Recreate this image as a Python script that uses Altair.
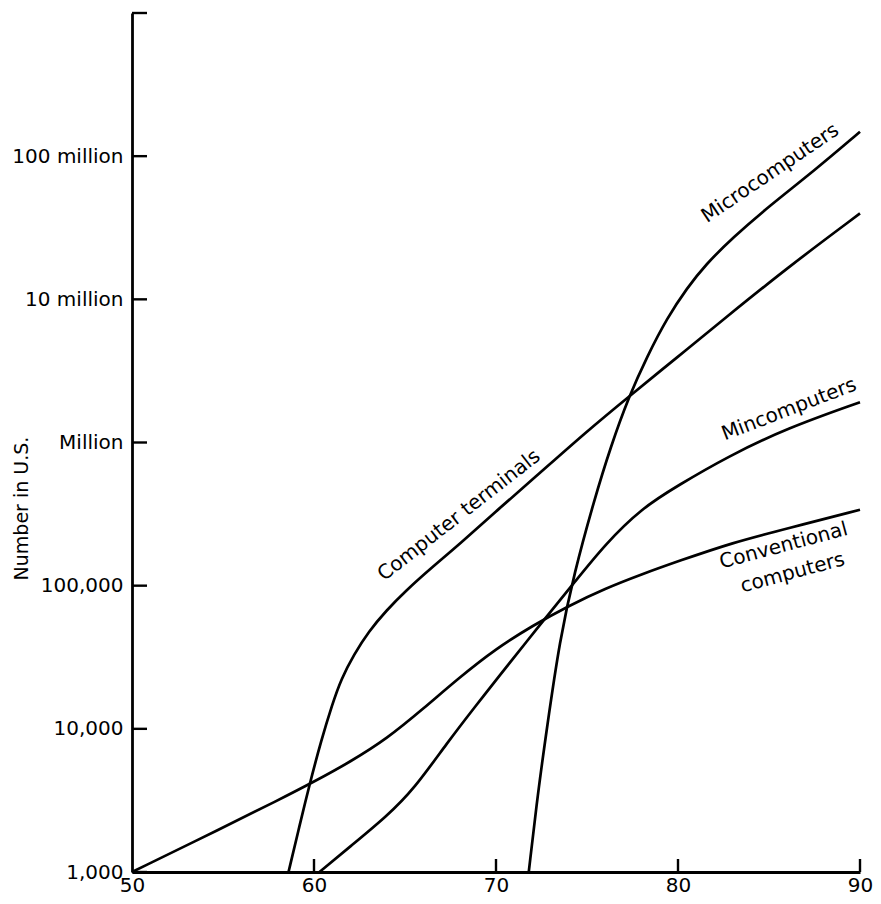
import altair as alt
import pandas as pd

# ---- data ----
conv_years = [50, 55, 58, 60, 62, 64, 66, 68, 70, 72, 74, 76, 78, 80, 83, 86, 90]
conv_vals = [1000, 2040, 3160, 4270, 5890, 8510, 13800, 22900, 36300, 52500, 72400, 95500,
             120000, 148000, 200000, 251000, 339000]

term_years = [58.6, 59.2, 59.75, 60.4, 61, 61.5, 62.2, 63, 64, 65, 66.5, 68, 70, 72, 75, 77.3,
              80, 82.5, 86, 90]
term_vals = [1000, 2090, 4070, 8320, 14800, 22400, 33100, 47900, 67600, 91200, 135000, 195000,
             331000, 550000, 1200000, 2090000, 3980000, 7240000, 16600000, 39800000]

micro_years = [71.8, 72.3, 72.8, 73.5, 74.3, 75.4, 76.3, 77.3, 78.3, 79.4, 80.5, 81.5, 83, 85,
               87.5, 90]
micro_vals = [1000, 3550, 10200, 41700, 123000, 398000, 933000, 2090000, 3980000, 7410000,
              12000000, 17400000, 26900000, 44700000, 79400000, 148000000]

mini_years = [60.3, 62, 64, 65.5, 67.3, 69, 70, 72.5, 74.3, 76, 78, 80, 82.7, 86, 90]
mini_vals = [1000, 1510, 2450, 3800, 7940, 15100, 21900, 55000, 105000, 195000, 347000, 501000,
             794000, 1260000, 1910000]

y_tick_values = [1e3, 1e4, 1e5, 1e6, 1e7, 1e8, 1e9]
y_tick_labels = ["1,000", "10,000", "100,000", "Million", "10 million", "100 million", ""]
x_tick_values = [50, 60, 70, 80, 90]
inner_x_ticks = [60, 70, 80, 90]

FONT = "DejaVu Sans"
W, H = 728, 859

rows = []
for name, xs, vs in [("Conventional computers", conv_years, conv_vals),
                     ("Computer terminals", term_years, term_vals),
                     ("Microcomputers", micro_years, micro_vals),
                     ("Minicomputers", mini_years, mini_vals)]:
    for i, (x, v) in enumerate(zip(xs, vs)):
        rows.append({"series": name, "year": x, "value": v, "order": i})
df = pd.DataFrame(rows)

label_expr = " : ".join(
    f"datum.value == {v:g} ? '{t}'" for v, t in zip(y_tick_values, y_tick_labels)
) + " : ''"

xscale = alt.Scale(domain=[50, 90], nice=False, zero=False)
yscale = alt.Scale(type="log", domain=[1e3, 1e9], nice=False)

xaxis = alt.Axis(values=x_tick_values, ticks=False, grid=False, domainWidth=2.8,
                 domainColor="black", labelFontSize=20, labelFont=FONT, labelColor="black",
                 labelPadding=3, title=None, labelFlush=False)
yaxis = alt.Axis(values=y_tick_values, labelExpr=label_expr, ticks=False, grid=False,
                 domainWidth=2.8, domainColor="black", labelFontSize=20, labelFont=FONT,
                 labelColor="black", labelPadding=9, title="Number in U.S.",
                 titleFont=FONT, titleFontSize=19, titleFontWeight="normal",
                 titleColor="black", titleX=-111, titleY=495, titleAngle=270,
                 titleAlign="center", titleBaseline="middle", labelFlush=False)

X = lambda: alt.X("year:Q", scale=xscale, axis=xaxis)
Y = lambda: alt.Y("value:Q", scale=yscale, axis=yaxis)

lines = alt.Chart(df).mark_line(color="black", strokeWidth=2.7,
                                interpolate="basis").encode(
    x=X(), y=Y(), detail="series:N", order="order:Q",
)

ytick_df = pd.DataFrame({"value": y_tick_values})
yticks = alt.Chart(ytick_df).mark_rule(color="black", strokeWidth=2.4).encode(
    y=Y(), x=alt.value(0), x2=alt.value(15),
)
xtick_df = pd.DataFrame({"year": inner_x_ticks})
xticks = alt.Chart(xtick_df).mark_rule(color="black", strokeWidth=2.4).encode(
    x=X(), y=alt.value(H), y2=alt.value(H - 13),
)

annotations = [
    ("Computer terminals", 67.97, 310000, 322),
    ("Microcomputers", 85.07, 76000000, 326),
    ("Mincomputers", 86.1, 1700000, 339),
    ("Conventional", 85.8, 190000, 345),
    ("computers", 86.3, 123000, 345),
]
texts = []
for txt, ax, ay, ang in annotations:
    tdf = pd.DataFrame({"t": [txt], "year": [ax], "value": [ay]})
    texts.append(
        alt.Chart(tdf).mark_text(font=FONT, fontSize=20, angle=ang, color="black",
                                 align="center", baseline="middle").encode(
            x=X(), y=Y(), text="t:N",
        )
    )

chart = alt.layer(lines, yticks, xticks, *texts).properties(
    width=W, height=H,
    autosize=alt.AutoSizeParams(type="none"),
    padding={"left": 124, "top": 5, "right": 13, "bottom": 24},
).configure(background="white").configure_view(stroke=None)

chart.save("out.html", embed_options={"renderer": "svg", "actions": False})
